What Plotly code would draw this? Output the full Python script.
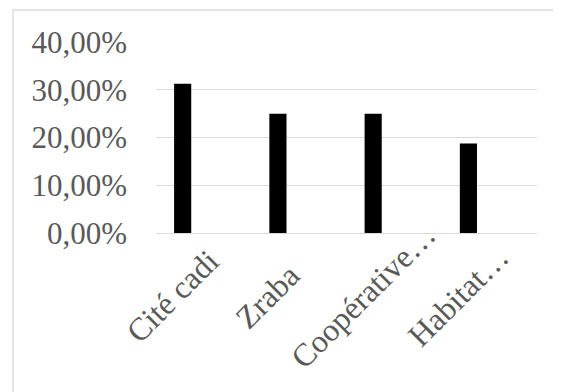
import plotly.graph_objects as go

# Données
quartiers = ["Cité cadi", "Zraba", "Coopérative…", "Habitat…"]
parts = [0.3125, 0.25, 0.25, 0.1875]
y_ticks = [0, 0.1, 0.2, 0.3, 0.4]

GRIS = "#d9d9d9"
TEXTE = "#595959"
POLICE = "Liberation Serif"

fig = go.Figure()
fig.add_trace(go.Bar(
    x=quartiers, y=parts,
    marker=dict(color="black", line=dict(width=0)),
    width=0.18, offset=-0.31,
    showlegend=False,
))

# la page est décalée de 8 px (marge du body) -> marges compensées
fig.update_layout(
    width=561, height=392,
    margin=dict(l=148, r=32, t=34, b=167, autoexpand=False),
    paper_bgcolor="white", plot_bgcolor="white",
    separators=", ",
    font=dict(family=POLICE, size=31, color=TEXTE),
    xaxis=dict(showgrid=False, zeroline=False, showline=False, automargin=False,
               showticklabels=False, range=[-0.5, len(quartiers) - 0.5]),
    yaxis=dict(range=[0, 0.4], tickvals=y_ticks, tickformat=".2%",
               showgrid=True, gridcolor=GRIS, gridwidth=1.3,
               zeroline=True, zerolinecolor=GRIS, zerolinewidth=1.3,
               showline=False, ticklabelstandoff=28, automargin=False,
               tickfont=dict(size=31, color=TEXTE)),
)

# étiquettes de catégories inclinées, centrées comme dans Excel
for q in quartiers:
    fig.add_annotation(x=q, xref="x", y=0, yref="paper",
                       text=q, showarrow=False, textangle=-45,
                       xanchor="center", yanchor="middle",
                       xshift=-31, yshift=-63,
                       font=dict(size=32, color=TEXTE, family=POLICE))

# cadre du graphique (façon Excel)
fig.add_shape(type="rect", xref="paper", yref="paper",
              x0=-0.3753, x1=1.1, y0=-1.0, y1=1.1675,
              line=dict(color=GRIS, width=1.3), layer="below")

fig.write_html("out.html")
